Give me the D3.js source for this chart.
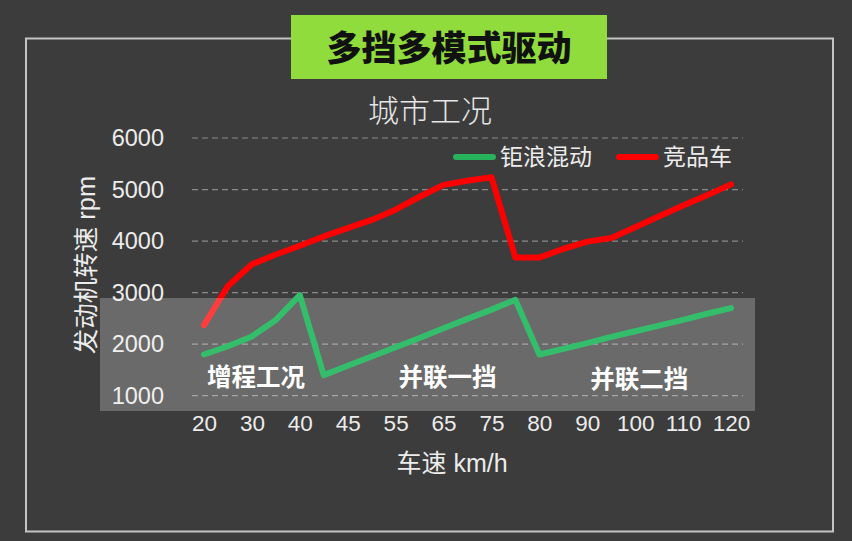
<!DOCTYPE html>
<html>
<head>
<meta charset="utf-8">
<script src="https://cdn.jsdelivr.net/npm/d3@7"></script>
<style>
  html, body { margin: 0; padding: 0; background: #3c3c3c; }
  svg { display: block; }
  text { font-family: "Liberation Sans", "Noto Sans CJK SC", sans-serif; }
</style>
</head>
<body>
<div id="chart"></div>
<script>
// speed categories (km/h), only every other one gets a label
const speeds = ["20","25","30","35","40","42","45","50","55","60","65","70",
                "75","78","80","85","90","95","100","105","110","115","120"];
const speedLabels = ["20","30","40","45","55","65","75","80","90","100","110","120"];

// engine speed (rpm)
const julang = [1800,1960,2150,2470,2950,1400,1580,1760,1940,2120,2310,2490,
                2670,2860,1800,1910,2020,2140,2250,2360,2470,2590,2700];
const rival  = [2370,3130,3550,3740,3910,4090,4250,4410,4610,4860,5090,5170,
                5240,3680,3680,3850,3990,4060,4270,4480,4690,4890,5100];

const rpmTicks = [1000,2000,3000,4000,5000,6000];
const seriesNames = ["钜浪混动", "竞品车"];
const modes = [
  { label: "增程工况", at: "30" },
  { label: "并联一挡", at: "65" },
  { label: "并联二挡", at: "100" }
];

const W = 852, H = 541;
const svg = d3.select("#chart").append("svg")
    .attr("width", W)
    .attr("height", H);

svg.append("rect")
    .attr("width", W).attr("height", H)
    .attr("fill", "#3c3c3c");

// outer frame
svg.append("rect")
    .attr("x", 26).attr("y", 38.5)
    .attr("width", 807).attr("height", 493)
    .attr("fill", "none")
    .attr("stroke", "#c4c4c4")
    .attr("stroke-width", 2);

// green title box
svg.append("rect")
    .attr("x", 291).attr("y", 15)
    .attr("width", 316).attr("height", 64)
    .attr("fill", "#8fdc3c");
svg.append("text")
    .attr("x", 449).attr("y", 48)
    .attr("text-anchor", "middle")
    .attr("dominant-baseline", "central")
    .attr("font-size", "35px")
    .attr("font-weight", 900)
    .attr("fill", "#111")
    .text("多挡多模式驱动");

svg.append("text")
    .attr("x", 430).attr("y", 111)
    .attr("text-anchor", "middle")
    .attr("dominant-baseline", "central")
    .attr("font-size", "31px")
    .attr("font-weight", 300)
    .attr("fill", "#e6e6e6")
    .text("城市工况");

const x = d3.scalePoint()
    .domain(speeds)
    .range([192, 743])
    .padding(0.5);

const y = d3.scaleLinear()
    .domain([1000, 6000])
    .range([395.7, 138]);

// gridlines
svg.append("g")
  .selectAll("line")
  .data(rpmTicks)
  .join("line")
    .attr("x1", 192).attr("x2", 743)
    .attr("y1", d => y(d)).attr("y2", d => y(d))
    .attr("stroke", "#8a8a8a")
    .attr("stroke-width", 1.2)
    .attr("stroke-dasharray", "6,4");

// y axis (labels only)
const yAxis = svg.append("g")
    .attr("transform", "translate(171,0)")
    .call(d3.axisLeft(y).tickValues(rpmTicks).tickSize(0).tickPadding(7).tickFormat(d3.format("d")));
yAxis.select(".domain").remove();
yAxis.selectAll("text")
    .attr("fill", "#ececec")
    .attr("font-size", "23.5px")
    .style("font-family", "'Liberation Sans', Arial, sans-serif");

// x axis (labels only)
const xAxis = svg.append("g")
    .attr("transform", "translate(0,410)")
    .call(d3.axisBottom(x).tickValues(speedLabels).tickSize(0).tickPadding(5));
xAxis.select(".domain").remove();
xAxis.selectAll("text")
    .attr("fill", "#ececec")
    .attr("font-size", "22.5px")
    .style("font-family", "'Liberation Sans', Arial, sans-serif");

svg.append("text")
    .attr("x", 452).attr("y", 463)
    .attr("text-anchor", "middle")
    .attr("dominant-baseline", "central")
    .attr("font-size", "25px")
    .attr("fill", "#ececec")
    .text("车速 km/h");

svg.append("text")
    .attr("transform", "translate(86,265) rotate(-90)")
    .attr("text-anchor", "middle")
    .attr("dominant-baseline", "central")
    .attr("font-size", "25.5px")
    .attr("fill", "#ececec")
    .text("发动机转速 rpm");

const line = d3.line()
    .x((d, i) => x(speeds[i]))
    .y(d => y(d));

svg.append("path")
    .datum(rival)
    .attr("d", line)
    .attr("fill", "none")
    .attr("stroke", "#ff0000")
    .attr("stroke-width", 6)
    .attr("stroke-linejoin", "round")
    .attr("stroke-linecap", "round");

// translucent band marking the drive modes
svg.append("rect")
    .attr("x", 100).attr("y", 298)
    .attr("width", 655).attr("height", 113)
    .attr("fill", "#ffffff")
    .attr("opacity", 0.24);

svg.append("path")
    .datum(julang)
    .attr("d", line)
    .attr("fill", "none")
    .attr("stroke", "#34bd6a")
    .attr("stroke-width", 6)
    .attr("stroke-linejoin", "round")
    .attr("stroke-linecap", "round");

svg.append("g")
  .selectAll("text")
  .data(modes)
  .join("text")
    .attr("x", d => x(d.at) + 4)
    .attr("y", (d, i) => i === 2 ? 379 : 377)
    .attr("text-anchor", "middle")
    .attr("dominant-baseline", "central")
    .attr("font-size", "24.5px")
    .attr("font-weight", 700)
    .attr("fill", "#ffffff")
    .text(d => d.label);

// legend
const legend = svg.append("g");
const legendItems = [
  { name: seriesNames[0], color: "#27b35b", x: 456 },
  { name: seriesNames[1], color: "#ff0000", x: 619 }
];
legendItems.forEach(it => {
  legend.append("line")
      .attr("x1", it.x).attr("x2", it.x + 37)
      .attr("y1", 157).attr("y2", 157)
      .attr("stroke", it.color)
      .attr("stroke-width", 6)
      .attr("stroke-linecap", "round");
  legend.append("text")
      .attr("x", it.x + 44).attr("y", 157)
      .attr("dominant-baseline", "central")
      .attr("font-size", "23px")
      .attr("fill", "#ececec")
      .text(it.name);
});
</script>
</body>
</html>
